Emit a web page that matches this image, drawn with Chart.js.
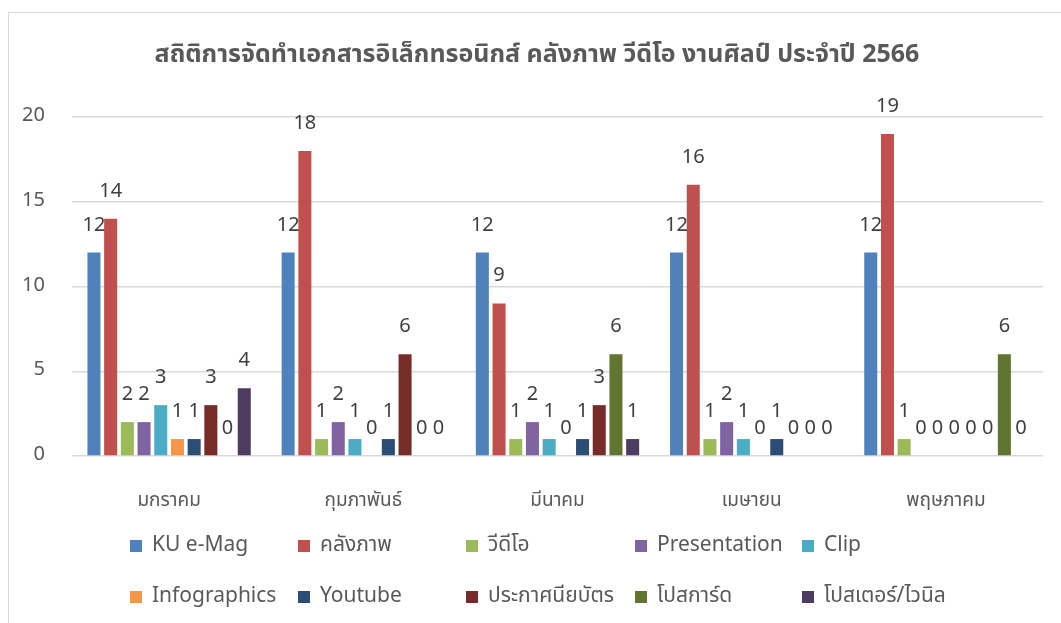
<!DOCTYPE html>
<html>
<head>
<meta charset="utf-8">
<script src="https://cdn.jsdelivr.net/npm/chart.js@4"></script>
<style>
  body { margin: 0; background: #fff; }
  #frame { position: absolute; left: 8px; top: 12px; width: 1100px; height: 700px; border: 1px solid #d9d9d9; }
  #wrap { position: absolute; left: 0; top: 0; width: 1061px; height: 623px; }
</style>
</head>
<body>
<div id="frame"></div>
<div id="wrap"><canvas id="statChart"></canvas></div>
<script>
// ข้อมูลรายเดือน ปี 2566
const chartTitle = 'สถิติการจัดทำเอกสารอิเล็กทรอนิกส์ คลังภาพ วีดีโอ งานศิลป์ ประจำปี 2566';
const months = ['มกราคม', 'กุมภาพันธ์', 'มีนาคม', 'เมษายน', 'พฤษภาคม'];
const seriesNames = ['KU e-Mag', 'คลังภาพ', 'วีดีโอ', 'Presentation', 'Clip',
  'Infographics', 'Youtube', 'ประกาศนียบัตร', 'โปสการ์ด', 'โปสเตอร์/ไวนิล'];
const kuEmag = [12, 12, 12, 12, 12];
const photoBank = [14, 18, 9, 16, 19];
const video = [2, 1, 1, 1, 1];
const presentation = [2, 2, 2, 2, 0];
const clip = [3, 1, 1, 1, 0];
const infographics = [1, 0, 0, 0, 0];
const youtube = [1, 1, 1, 1, 0];
const certificate = [3, 6, 3, 0, 0];
const postcard = [0, 0, 6, 0, 6];
const poster = [4, 0, 1, 0, 0];
const yTicks = [0, 5, 10, 15, 20];

const seriesValues = [kuEmag, photoBank, video, presentation, clip,
  infographics, youtube, certificate, postcard, poster];
const colors = ['#4F81BD', '#C0504D', '#9BBB59', '#8064A2', '#4BACC6',
  '#F79646', '#2C4D75', '#772C2A', '#5F7530', '#4D3B62'];

const FONT = "Tahoma, 'Noto Sans Thai', 'Noto Sans', 'DejaVu Sans', sans-serif";

// title centred on the frame, not on the plot
const frameTitle = {
  id: 'frameTitle',
  afterDraw(chart) {
    const c = chart.ctx;
    c.save();
    c.font = 'bold 25px ' + FONT;
    c.fillStyle = '#595959';
    c.textAlign = 'center';
    c.textBaseline = 'middle';
    c.fillText(chartTitle, 537, 57);
    c.restore();
  }
};

// value labels above each bar
const valueLabels = {
  id: 'valueLabels',
  afterDatasetsDraw(chart) {
    const c = chart.ctx;
    c.save();
    c.font = '20px ' + FONT;
    c.fillStyle = '#404040';
    c.textAlign = 'center';
    c.textBaseline = 'middle';
    chart.data.datasets.forEach((ds, i) => {
      chart.getDatasetMeta(i).data.forEach((bar, j) => {
        c.fillText(ds.data[j], bar.x, bar.y - 26);
      });
    });
    c.restore();
  }
};

// legend in two rows of five columns, like the Excel one
const gridLegend = {
  id: 'gridLegend',
  afterDraw(chart) {
    const c = chart.ctx;
    const colX = [130, 298, 466, 635, 802];
    const rowY = [546, 597];
    c.save();
    c.font = '21px ' + FONT;
    c.textBaseline = 'middle';
    chart.data.datasets.forEach((ds, i) => {
      const x = colX[i % 5];
      const y = rowY[Math.floor(i / 5)];
      c.fillStyle = ds.backgroundColor;
      c.fillRect(x, y - 6, 12, 12);
      c.fillStyle = '#595959';
      c.fillText(ds.label, x + 22, y + 1);
    });
    c.restore();
  }
};

const ctx = document.getElementById('statChart').getContext('2d');
new Chart(ctx, {
  type: 'bar',
  data: {
    labels: months,
    datasets: seriesNames.map((name, i) => ({
      label: name,
      data: seriesValues[i],
      backgroundColor: colors[i],
      categoryPercentage: 0.86,
      barPercentage: 0.78
    }))
  },
  options: {
    responsive: true,
    maintainAspectRatio: false,
    animation: false,
    layout: { padding: { top: 117, right: 18, bottom: 107, left: 0 } },
    plugins: {
      legend: { display: false },
      tooltip: { enabled: false },
      title: { display: false }
    },
    scales: {
      x: {
        grid: { display: false },
        border: { display: false },
        ticks: { color: '#595959', font: { family: FONT, size: 19 }, padding: 27 },
        afterFit: (s) => { s.height = 60; }
      },
      y: {
        min: 0,
        max: 20,
        afterBuildTicks: (s) => { s.ticks = yTicks.map(v => ({ value: v })); },
        grid: { color: '#d9d9d9', lineWidth: 1.5, drawTicks: false },
        border: { display: false },
        ticks: { color: '#595959', font: { family: FONT, size: 20 }, padding: 27 },
        afterFit: (s) => { s.width = 72; }
      }
    }
  },
  plugins: [frameTitle, valueLabels, gridLegend]
});
</script>
</body>
</html>
